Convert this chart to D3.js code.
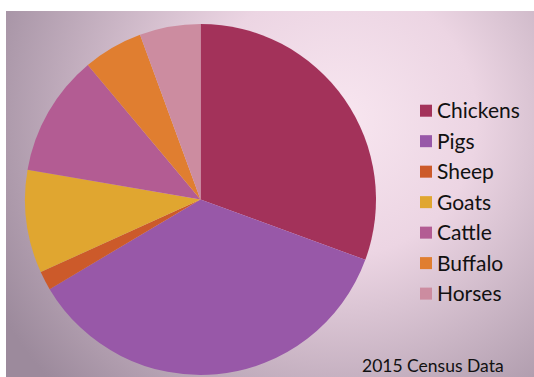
<!DOCTYPE html>
<html>
<head>
<meta charset="utf-8">
<script src="https://cdn.jsdelivr.net/npm/d3@7"></script>
<style>
  html, body { margin: 0; padding: 0; background: #fff; }
  svg { display: block; }
  text { font-family: Lato, "Open Sans", sans-serif; fill: #111; }
</style>
</head>
<body>
<svg id="chart" width="534" height="377"></svg>
<script>
// animal shares (percent)
const animals = ['Chickens', 'Pigs', 'Sheep', 'Goats', 'Cattle', 'Buffalo', 'Horses'];
const shares = [30.6, 35.9, 1.75, 9.5, 11.2, 5.5, 5.6];
const colours = ['#a3325a', '#9858a8', '#cc5a2a', '#e0a630', '#b35c93', '#e07e30', '#cc8ca0'];
const footnote = '2015 Census Data';

const width = 534, height = 377;
const svg = d3.select('#chart');

// background panel with soft vignette
const defs = svg.append('defs');
const grad = defs.append('radialGradient')
    .attr('id', 'bg')
    .attr('gradientUnits', 'userSpaceOnUse')
    .attr('cx', 340).attr('cy', 120).attr('r', 390);
grad.append('stop').attr('offset', 0).attr('stop-color', '#f8e6f0');
grad.append('stop').attr('offset', 0.35).attr('stop-color', '#ecd5e3');
grad.append('stop').attr('offset', 1).attr('stop-color', '#9c8a9c');

svg.append('rect')
    .attr('x', 6).attr('y', 11)
    .attr('width', width - 6).attr('height', height - 11)
    .attr('fill', 'url(#bg)');

// pie
const radius = 175.5;
const color = d3.scaleOrdinal().domain(animals).range(colours);
const pie = d3.pie().sort(null).value(d => d.value);
const arc = d3.arc().innerRadius(0).outerRadius(radius);
const data = animals.map((a, i) => ({ name: a, value: shares[i] }));

const g = svg.append('g').attr('transform', 'translate(200.5,199.5)');
g.selectAll('path')
  .data(pie(data))
  .enter()
  .append('path')
  .attr('d', arc)
  .attr('fill', d => color(d.data.name));

// legend
const legend = svg.append('g').attr('transform', 'translate(420,0)');
const row = d3.scalePoint().domain(animals).range([110.7, 293.6]);

const item = legend.selectAll('.item')
  .data(animals)
  .enter()
  .append('g')
  .attr('class', 'item')
  .attr('transform', d => `translate(0,${row(d)})`);

item.append('rect')
    .attr('x', 0).attr('y', -6)
    .attr('width', 12).attr('height', 12)
    .attr('fill', d => color(d));

item.append('text')
    .attr('x', 17).attr('y', 7.5)
    .style('font-size', '21px')
    .text(d => d);

svg.append('text')
    .attr('x', 362).attr('y', 372)
    .style('font-size', '17.5px')
    .text(footnote);
</script>
</body>
</html>
